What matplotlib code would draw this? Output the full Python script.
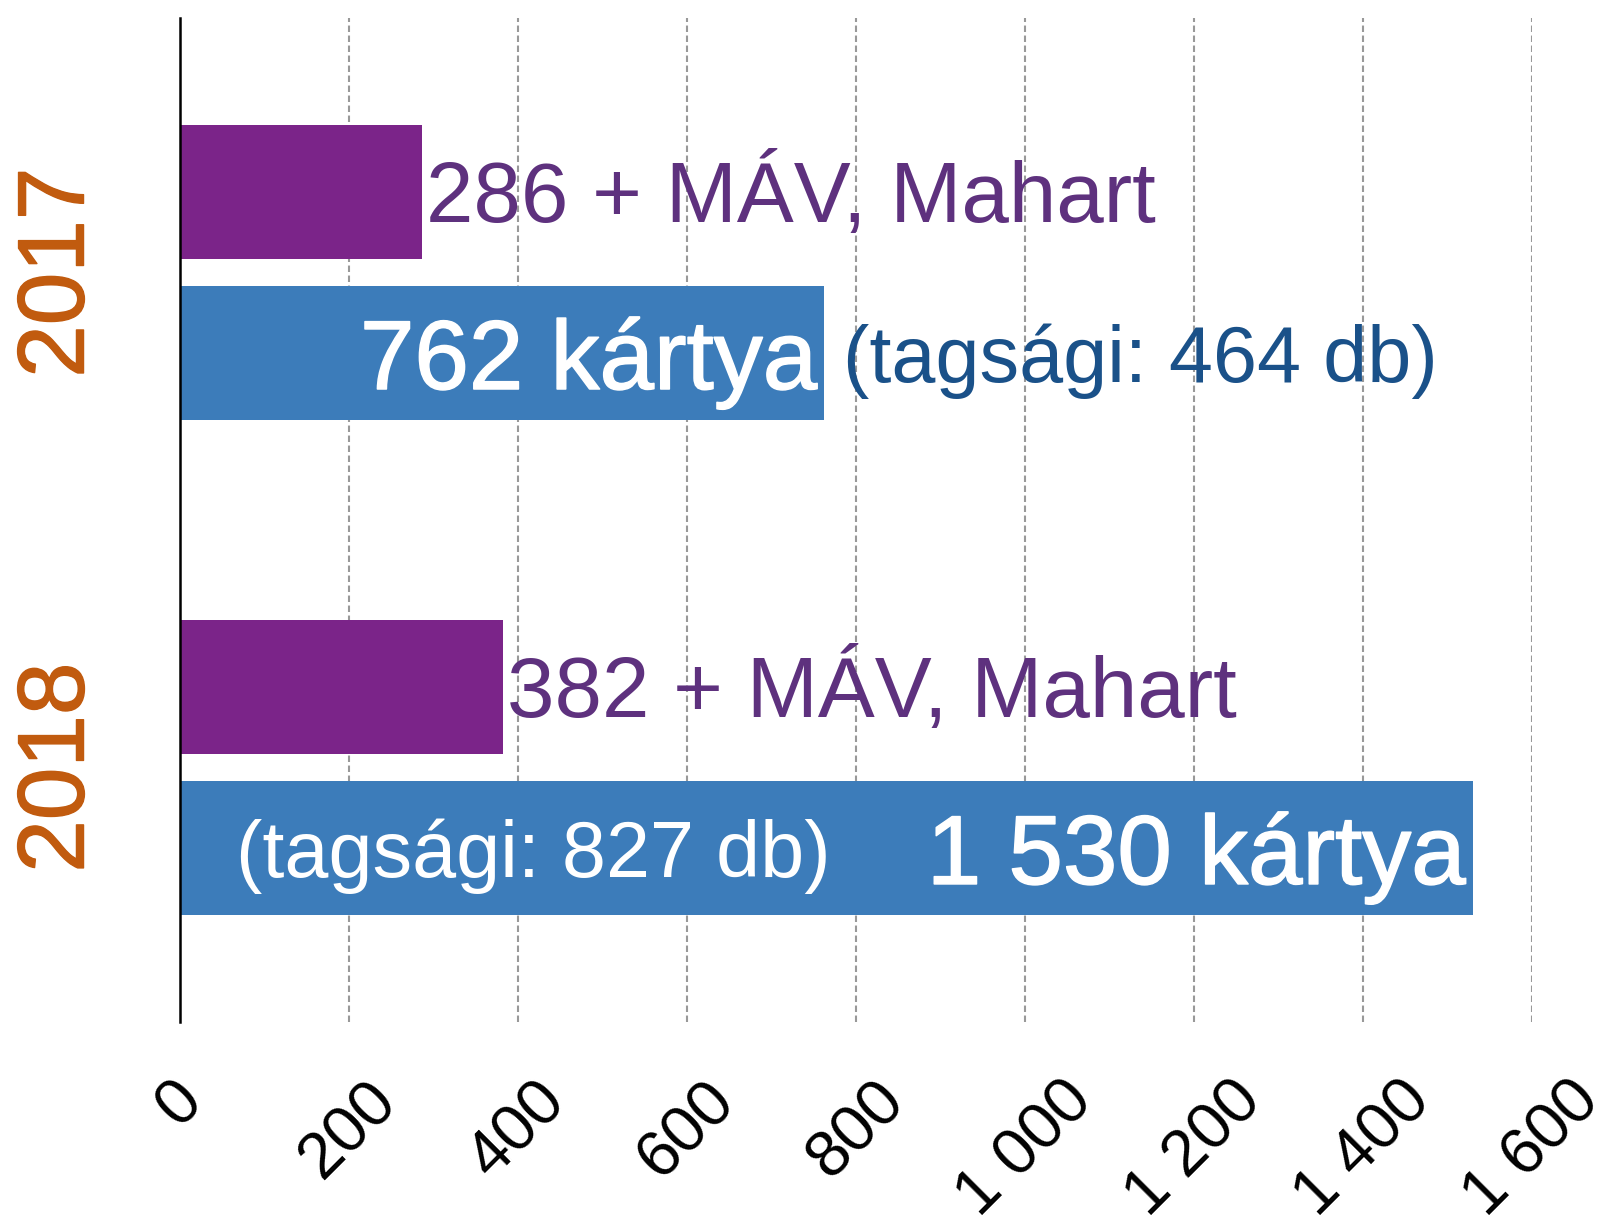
import matplotlib
matplotlib.use("Agg")
import matplotlib.pyplot as plt
import matplotlib.transforms as mtransforms
import matplotlib.patheffects as pe

plt.rcParams['font.family'] = ['Liberation Sans', 'DejaVu Sans']

# ---- data ----
years = ["2017", "2018"]
partner_values = [286, 382]          # purple bars
card_values = [762, 1530]            # blue bars
partner_labels = ["286 + MÁV, Mahart", "382 + MÁV, Mahart"]
card_labels = ["762 kártya", "1 530 kártya"]
member_labels = ["(tagsági: 464 db)", "(tagsági: 827 db)"]
xticks = [0, 200, 400, 600, 800, 1000, 1200, 1400, 1600]
xtick_labels = ["0", "200", "400", "600", "800", "1 000", "1 200", "1 400", "1 600"]

purple = "#7B2489"
purple_text = "#5E317E"
blue = "#3C7CBA"
blue_text = "#1A5189"
orange = "#C15B0F"

fig = plt.figure(figsize=(16.13, 12.22), dpi=100)
ax = fig.add_axes([0.1116, 0.164, 0.9498 - 0.1116, 0.985 - 0.164])

group_gap = 3.7
first_center = 1.9
offset = 0.6
bar_h = 1.0

trans = mtransforms.blended_transform_factory(ax.transAxes, ax.transData)

for i, yr in enumerate(years):
    c = first_center + group_gap * i
    yp = c - offset
    yb = c + offset
    ax.barh(yp, partner_values[i], height=bar_h, color=purple, zorder=3)
    ax.barh(yb, card_values[i], height=bar_h, color=blue, zorder=3)

    # purple label to the right of the bar
    ax.annotate(partner_labels[i], xy=(partner_values[i], yp), xytext=(3, 3),
                textcoords="offset points", ha="left", va="center_baseline",
                fontsize=61.5, color=purple_text, zorder=4)
    # card label inside bar, right aligned (medium weight via thin stroke)
    ax.annotate(card_labels[i], xy=(card_values[i], yb), xytext=(-5, 0),
                textcoords="offset points", ha="right", va="center_baseline",
                fontsize=70.5, color="white", zorder=4,
                path_effects=[pe.withStroke(linewidth=1.1, foreground="white")])
    # year label
    ax.annotate(yr, xy=(-0.0936, c), xycoords=trans, xytext=(4, 0),
                textcoords="offset points", rotation=90, ha="center",
                va="center", fontsize=68, color=orange,
                path_effects=[pe.withStroke(linewidth=1.0, foreground=orange)])

# membership labels
ax.annotate(member_labels[0], xy=(card_values[0], first_center + offset),
            xytext=(14, 0), textcoords="offset points", ha="left",
            va="center_baseline", fontsize=57, color=blue_text, zorder=4)
ax.annotate(member_labels[1], xy=(0, first_center + group_gap + offset),
            xytext=(40, 0), textcoords="offset points", ha="left",
            va="center_baseline", fontsize=57, color="white", zorder=4)

ax.set_xlim(0, 1600)
ax.set_ylim(7.5, 0)
ax.set_yticks([])
ax.set_xticks(xticks)
ax.set_xticklabels(xtick_labels, rotation=45, ha="center", va="top", fontsize=47)
ax.tick_params(axis="x", length=0, pad=35)

for s in ["top", "right", "bottom"]:
    ax.spines[s].set_visible(False)
ax.spines["left"].set_linewidth(1.8)
ax.spines["left"].set_zorder(5)

for x in xticks[1:]:
    ax.axvline(x, color="#999999", linewidth=1.5, linestyle=(0, (3.1, 1.7)), zorder=1)

fig.savefig("out.png", dpi=100)
